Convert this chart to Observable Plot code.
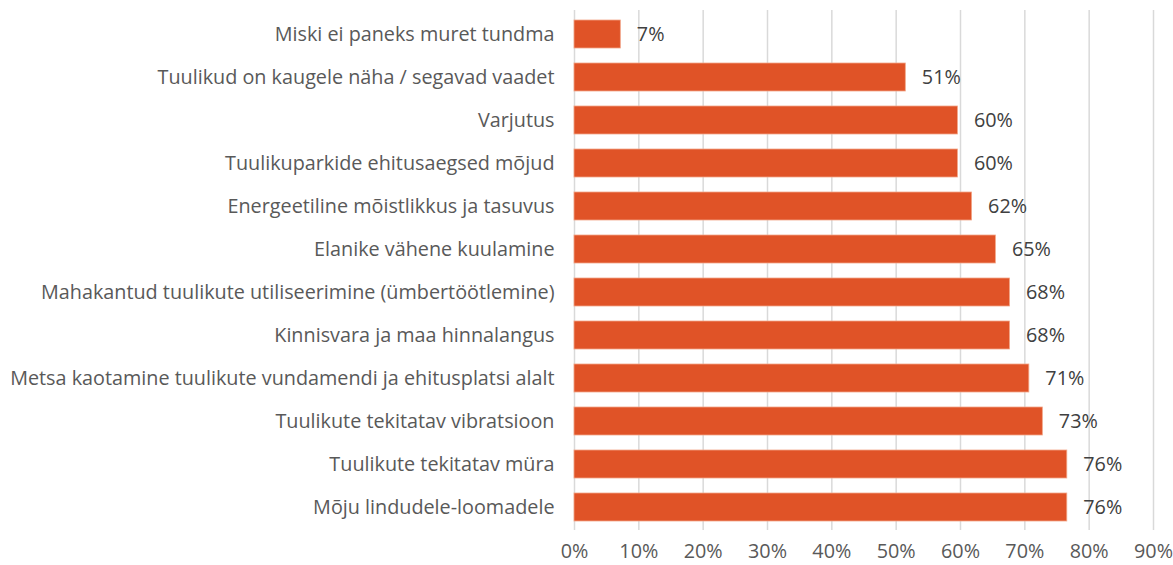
<!DOCTYPE html>
<html>
<head>
<meta charset="utf-8">
<script src="https://cdn.jsdelivr.net/npm/d3@7"></script>
<script src="https://cdn.jsdelivr.net/npm/@observablehq/plot@0.6"></script>
<style>
  html, body { margin: 0; padding: 0; background: #fff; }
  #chart svg { display: block; }
</style>
</head>
<body>
<div id="chart"></div>
<script>
const categories = [
  "Miski ei paneks muret tundma",
  "Tuulikud on kaugele näha / segavad vaadet",
  "Varjutus",
  "Tuulikuparkide ehitusaegsed mõjud",
  "Energeetiline mõistlikkus ja tasuvus",
  "Elanike vähene kuulamine",
  "Mahakantud tuulikute utiliseerimine (ümbertöötlemine)",
  "Kinnisvara ja maa hinnalangus",
  "Metsa kaotamine tuulikute vundamendi ja ehitusplatsi alalt",
  "Tuulikute tekitatav vibratsioon",
  "Tuulikute tekitatav müra",
  "Mõju lindudele-loomadele"
];
const values = [7.2, 51.5, 59.6, 59.6, 61.8, 65.5, 67.7, 67.7, 70.7, 72.8, 76.6, 76.6];
const valueLabels = ["7%", "51%", "60%", "60%", "62%", "65%", "68%", "68%", "71%", "73%", "76%", "76%"];
const xTicks = [0, 10, 20, 30, 40, 50, 60, 70, 80, 90];

const data = categories.map((c, i) => ({category: c, value: values[i], label: valueLabels[i]}));

const font = "'Open Sans', 'Liberation Sans', sans-serif";

const chart = Plot.plot({
  width: 1173,
  height: 565,
  marginLeft: 574,
  marginRight: 20,
  marginTop: 10,
  marginBottom: 35,
  style: {fontFamily: font, fontSize: "19.8px", color: "#595959", background: "#fff"},
  x: {domain: [0, 90], ticks: xTicks, tickFormat: d => d + "%", label: null},
  y: {domain: categories, paddingInner: 0.35, paddingOuter: 0.175, label: null},
  marks: [
    Plot.ruleX(xTicks, {stroke: "#d9d9d9", strokeWidth: 1.5}),
    Plot.barX(data, {x: "value", y: "category", fill: "#e05327", stroke: "#f2a688", strokeWidth: 0.8}),
    Plot.text(data, {x: "value", y: "category", text: "label", textAnchor: "start", dx: 16, fill: "#404040", fontSize: 19.8}),
    Plot.axisX({ticks: xTicks, tickFormat: d => d + "%", tickSize: 0, tickPadding: 13, fill: "#595959", fontSize: 19.8, label: null}),
    Plot.axisY({tickSize: 0, tickPadding: 20, fill: "#595959", fontSize: 19.8, label: null})
  ]
});
document.getElementById("chart").appendChild(chart);
</script>
</body>
</html>
